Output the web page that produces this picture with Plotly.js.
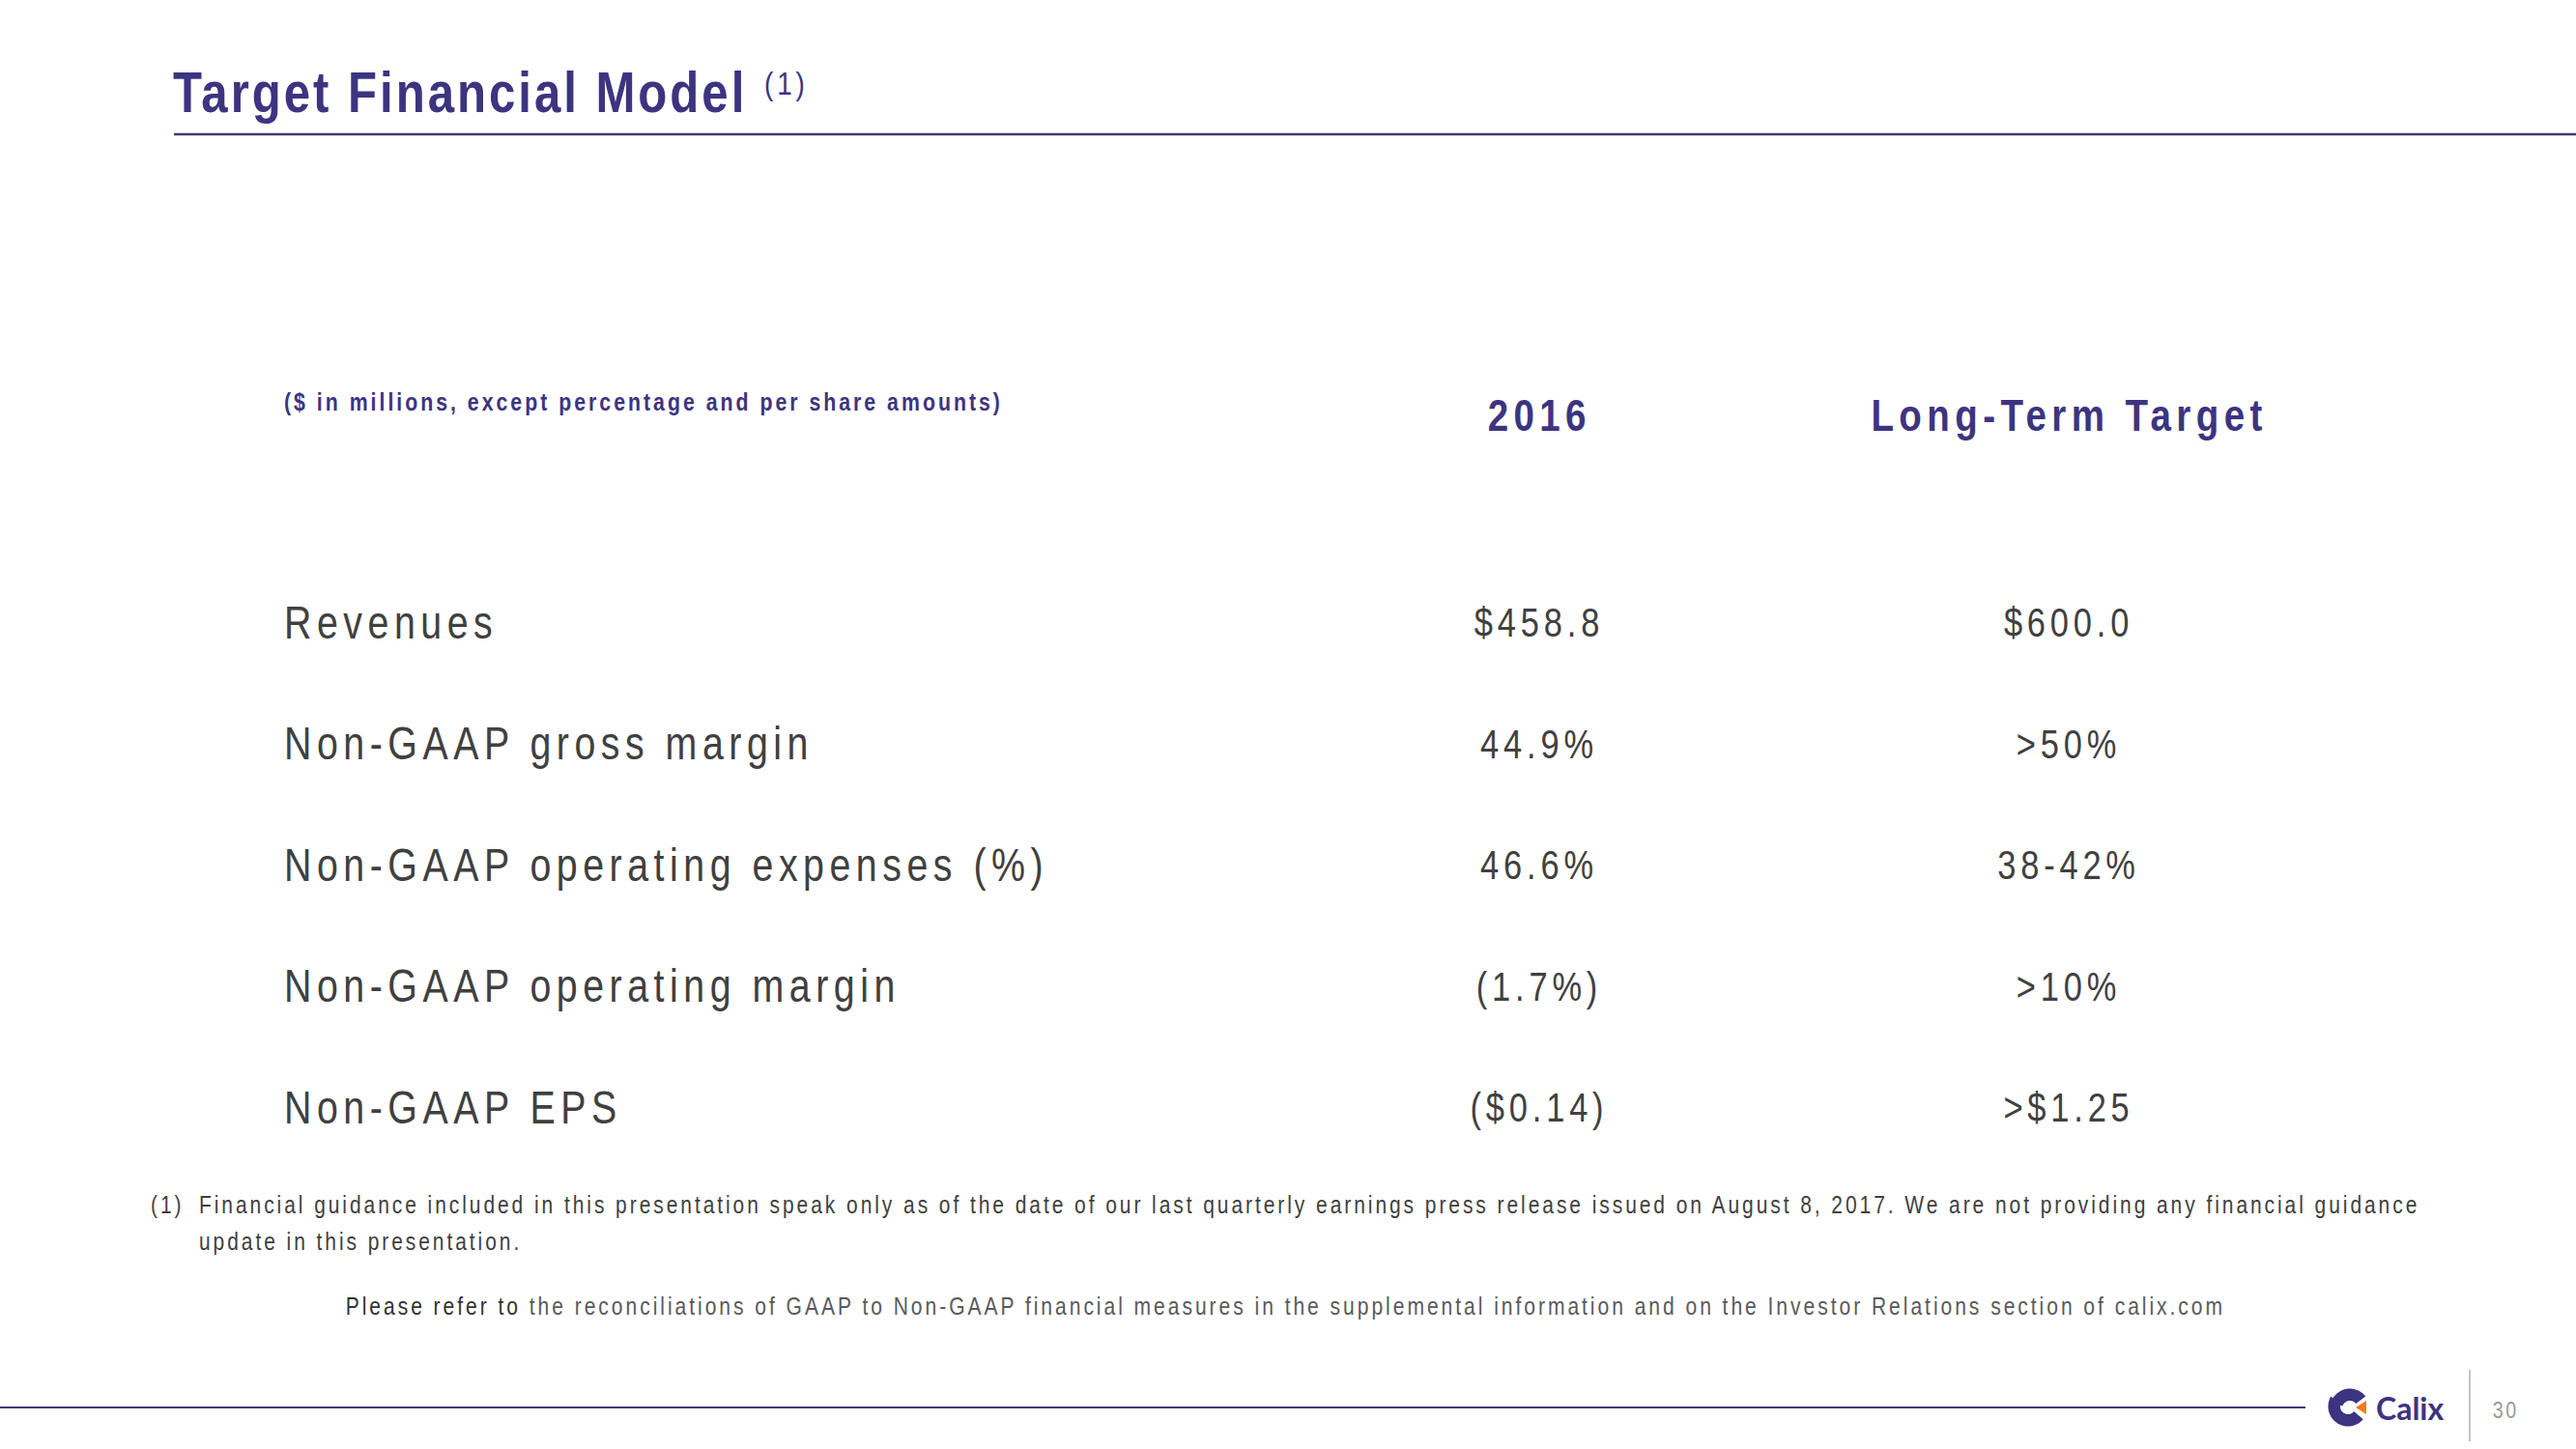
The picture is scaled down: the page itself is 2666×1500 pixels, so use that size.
<!DOCTYPE html>
<html><head><meta charset="utf-8">
<script src="https://cdn.plot.ly/plotly-3.0.1.min.js"></script>
<style>
html,body{margin:0;padding:0;background:#fff;overflow:hidden;}
#chart{width:2666px;height:1500px;}
.main-svg text{letter-spacing:0.14em;}
</style></head><body><div id="chart"></div>
<script>
// ---------- data ----------
const slideTitle = 'Target Financial Model';
const titleNote = '(1)';
const unitsNote = '($ in millions, except percentage and per share amounts)';
const columnHeaders = ['2016', 'Long-Term Target'];
const metrics = [
  'Revenues',
  'Non-GAAP gross margin',
  'Non-GAAP operating expenses (%)',
  'Non-GAAP operating margin',
  'Non-GAAP EPS'
];
const values2016 = ['$458.8', '44.9%', '46.6%', '(1.7%)', '($0.14)'];
const valuesLongTerm = ['$600.0', '>50%', '38-42%', '>10%', '>$1.25'];
const footnoteMark = '(1)';
const footnoteLines = [
  'Financial guidance included in this presentation speak only as of the date of our last quarterly earnings press release issued on August 8, 2017. We are not providing any financial guidance',
  'update in this presentation.'
];
const referLead = 'Please refer to';
const referRest = ' the reconciliations of GAAP to Non-GAAP financial measures in the supplemental information and on the Investor Relations section of calix.com';
const brandName = 'Calix';
const pageNumber = '30';

// ---------- style / layout constants ----------
const W = 2666, H = 1500;
const NARROW = "'Liberation Sans Narrow', 'Arial Narrow', 'Liberation Sans', Arial, sans-serif";
const NARROW_SCALE = 0.82;   // horizontal compression to imitate a narrow face
const PURPLE = '#3D3481';
const RULE = '#3E3A78';
const DARK = '#404040';
const COL_X = {label: 294, c2016: 1593, cLong: 2141};
const ROW_FIRST_PX = 649, ROW_STEP_PX = 125.5;
const yTop = -ROW_FIRST_PX / ROW_STEP_PX;
const yBottom = (H - ROW_FIRST_PX) / ROW_STEP_PX;

const colValues = [values2016, valuesLongTerm];
const colXs = [COL_X.c2016, COL_X.cLong];

const traces = [
  {
    type: 'scatter', mode: 'text', x: metrics.map(() => COL_X.label), y: metrics,
    text: metrics, textposition: 'middle right', marker: {size: 0},
    textfont: {family: NARROW, size: 48, color: DARK}, hoverinfo: 'skip', showlegend: false,
    cliponaxis: false
  }
];
colValues.forEach((vals, k) => {
  traces.push({
    type: 'scatter', mode: 'text', x: vals.map(() => colXs[k]), y: metrics,
    text: vals, textposition: 'middle center', marker: {size: 0},
    textfont: {family: NARROW, size: 42, color: DARK}, hoverinfo: 'skip', showlegend: false,
    cliponaxis: false
  });
});
// invisible anchor trace for the pixel overlay axes
traces.push({type: 'scatter', mode: 'markers', x: [0], y: [0], xaxis: 'x2', yaxis: 'y2',
  marker: {opacity: 0}, hoverinfo: 'skip', showlegend: false});

// Calix logo "C" (decorative)
function ringPath(cx, cy, R, r, a0, a1, n) {
  const pts = [];
  for (let i = 0; i <= n; i++) {
    const a = (a0 + (a1 - a0) * i / n) * Math.PI / 180;
    pts.push([cx + R * Math.cos(a), cy - R * Math.sin(a)]);
  }
  for (let i = n; i >= 0; i--) {
    const a = (a0 + (a1 - a0) * i / n) * Math.PI / 180;
    pts.push([cx + r * Math.cos(a), cy - r * Math.sin(a)]);
  }
  return 'M' + pts.map(p => p[0].toFixed(1) + ',' + p[1].toFixed(1)).join(' L') + ' Z';
}

const shapes = [
  {type: 'line', xref: 'x2', yref: 'y2', x0: 180, x1: W, y0: 139, y1: 139, line: {color: RULE, width: 2.5}},
  {type: 'line', xref: 'x2', yref: 'y2', x0: 0, x1: 2386, y0: 1457, y1: 1457, line: {color: RULE, width: 2}},
  {type: 'line', xref: 'x2', yref: 'y2', x0: 2556, x1: 2556, y0: 1418, y1: 1492, line: {color: '#c4c4c4', width: 2}},
  {type: 'path', xref: 'x2', yref: 'y2', path: ringPath(2430, 1456, 20.5, 8, 150, 320, 30), fillcolor: PURPLE, line: {width: 0}},
  {type: 'path', xref: 'x2', yref: 'y2', path: ringPath(2432, 1458, 20.5, 8, 38, 162, 20), fillcolor: PURPLE, line: {width: 0}},
  {type: 'path', xref: 'x2', yref: 'y2', path: 'M2438,1457 L2449,1450 L2449,1464 Z', fillcolor: '#F07D1A', line: {width: 0}}
];

const annotations = [
  {xref: 'x2', yref: 'y2', x: 177, y: 95, xanchor: 'left', yanchor: 'middle', align: 'left', showarrow: false,
   text: '<b>' + slideTitle + '</b>', font: {family: NARROW, size: 60, color: PURPLE}},
  {xref: 'x2', yref: 'y2', x: 789, y: 86, xanchor: 'left', yanchor: 'middle', align: 'left', showarrow: false,
   text: titleNote, font: {family: NARROW, size: 34, color: PURPLE}},
  {xref: 'x2', yref: 'y2', x: 292, y: 416, xanchor: 'left', yanchor: 'middle', align: 'left', showarrow: false,
   text: '<b>' + unitsNote + '</b>', font: {family: NARROW, size: 26, color: PURPLE}},
  {xref: 'x2', yref: 'y2', x: 154, y: 1247, xanchor: 'left', yanchor: 'middle', align: 'left', showarrow: false,
   text: footnoteMark, font: {family: NARROW, size: 25.6, color: DARK}},
  {xref: 'x2', yref: 'y2', x: 2457, y: 1457, xanchor: 'left', yanchor: 'middle', align: 'left', showarrow: false,
   text: '<b>' + brandName + '</b>', font: {family: "Lato, 'Open Sans', sans-serif", size: 32, color: PURPLE}},
  {xref: 'x2', yref: 'y2', x: 2593, y: 1459, xanchor: 'center', yanchor: 'middle', showarrow: false,
   text: pageNumber, font: {family: NARROW, size: 24, color: '#999999'}},
  {xref: 'x2', yref: 'y2', x: 1330, y: 1352, xanchor: 'center', yanchor: 'middle', showarrow: false,
   text: '<span style="color:#333333">' + referLead + '</span>' + referRest, font: {family: NARROW, size: 25.7, color: '#5a5a5a'}}
];
columnHeaders.forEach((h, k) => {
  annotations.push({xref: 'x', yref: 'y2', x: colXs[k], y: 429, xanchor: 'center', yanchor: 'middle', showarrow: false,
    text: '<b>' + h + '</b>', font: {family: NARROW, size: 47, color: PURPLE}});
});
footnoteLines.forEach((t, k) => {
  annotations.push({xref: 'x2', yref: 'y2', x: 204, y: 1247 + k * 38, xanchor: 'left', yanchor: 'middle', align: 'left', showarrow: false,
    text: t, font: {family: NARROW, size: 25.6, color: DARK}});
});

const layout = {
  width: W, height: H,
  margin: {l: 0, r: 0, t: 0, b: 0, pad: 0},
  paper_bgcolor: '#ffffff', plot_bgcolor: 'rgba(0,0,0,0)',
  showlegend: false,
  xaxis: {range: [0, W], visible: false, fixedrange: true, domain: [0, 1]},
  yaxis: {type: 'category', categoryarray: metrics, categoryorder: 'array', range: [yBottom, yTop], visible: false, fixedrange: true, domain: [0, 1]},
  xaxis2: {range: [0, W], visible: false, overlaying: 'x', anchor: 'y2', fixedrange: true},
  yaxis2: {range: [H, 0], visible: false, overlaying: 'y', anchor: 'x2', fixedrange: true},
  shapes: shapes,
  annotations: annotations
};

function condense(t, s) {
  const bb = t.getBBox();
  const anchor = t.getAttribute('text-anchor') || getComputedStyle(t).textAnchor || 'start';
  let px = bb.x;
  if (anchor === 'middle') px = bb.x + bb.width / 2;
  else if (anchor === 'end') px = bb.x + bb.width;
  const prev = t.getAttribute('transform') || '';
  t.setAttribute('transform', (prev + ' translate(' + px + ',0) scale(' + s + ',1) translate(' + (-px) + ',0)').trim());
}

Plotly.newPlot('chart', traces, layout, {staticPlot: true, displayModeBar: false}).then(() => {
  document.querySelectorAll('g.annotation').forEach(g => {
    const idx = +g.getAttribute('data-index');
    const t = g.querySelector('text');
    if (t && idx === 0) t.style.letterSpacing = '0.06em';
  });
  document.querySelectorAll('.main-svg text').forEach(t => {
    if (t.textContent === brandName) { t.style.letterSpacing = '0em'; return; }
    if (!t.textContent) return;
    condense(t, NARROW_SCALE);
  });
});
</script></body></html>
